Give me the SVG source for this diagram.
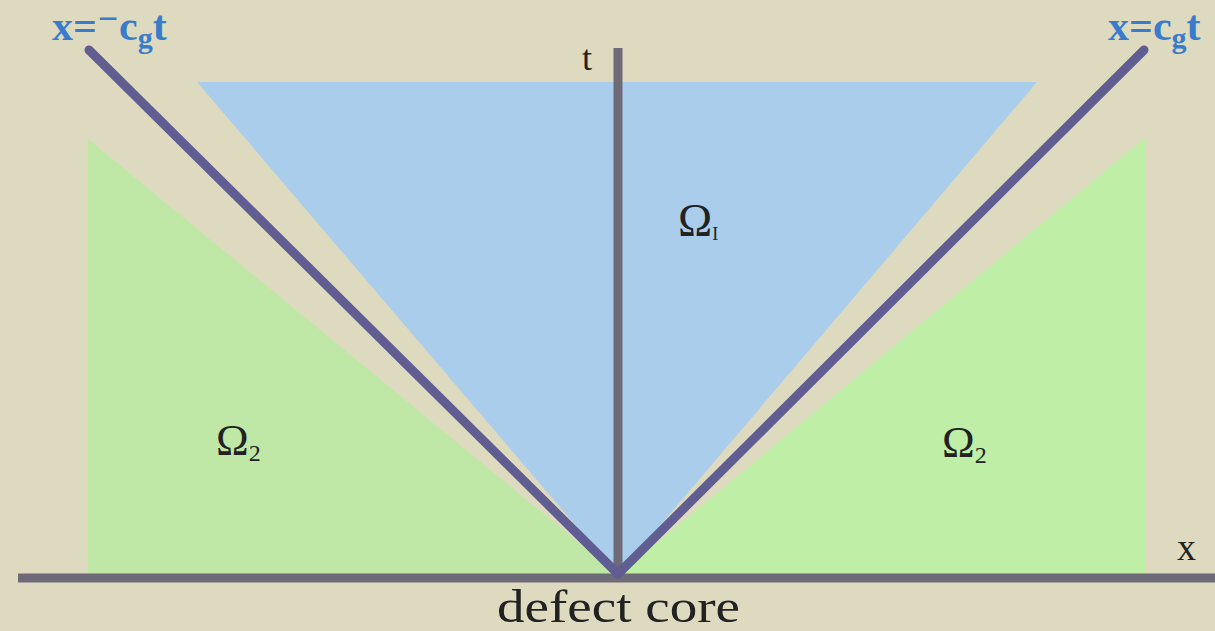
<svg xmlns="http://www.w3.org/2000/svg" width="1215" height="631" viewBox="0 0 1215 631">
<style>
.lbl{font-family:"Liberation Serif","DejaVu Serif",serif;fill:#222;}
.eq{font-family:"Liberation Serif","DejaVu Serif",serif;fill:#3a7ccc;font-weight:bold;font-size:42px;}
.axis{stroke:#6e6a78;stroke-width:9;fill:none;}
.cone{stroke:#5f5d92;stroke-width:9;stroke-linecap:round;fill:none;}
</style>
<rect width="1215" height="631" fill="#dedabf"/>
<g id="region-omega2-left"><polygon points="88,139 618,575 88,575" fill="#bfe8a6"/></g>
<g id="region-omega2-right"><polygon points="1145,138 618,575 1145,575" fill="#bfeea6"/></g>
<g id="region-omega1"><polygon points="197,82 1037,82 618,575" fill="#a9cdea"/></g>
<g id="connectors">
<line class="axis" x1="18" y1="578" x2="1215" y2="578"/>
<line class="axis" x1="618" y1="48" x2="618" y2="578"/>
<line class="cone" x1="89" y1="50" x2="618" y2="574"/>
<line class="cone" x1="1144" y1="50" x2="618" y2="574"/>
</g>
<g id="label-left-eq"><text class="eq" x="52" y="40">x=⁻c<tspan font-size="30" dy="8">g</tspan><tspan dy="-8">t</tspan></text></g>
<g id="label-right-eq"><text class="eq" x="1108" y="40">x=c<tspan font-size="30" dy="8">g</tspan><tspan dy="-8">t</tspan></text></g>
<g id="label-t"><text class="lbl" x="582" y="70" font-size="36">t</text></g>
<g id="label-x"><text class="lbl" x="1177" y="560" font-size="38">x</text></g>
<g id="label-defect"><text class="lbl" x="497" y="622" font-size="46" textLength="243" lengthAdjust="spacingAndGlyphs">defect core</text></g>
<g id="label-omega1"><text class="lbl" x="678" y="236" font-size="46">Ω<tspan font-size="18" dy="4">I</tspan></text></g>
<g id="label-omega2-left"><text class="lbl" x="216" y="455" font-size="44">Ω<tspan font-size="24" dy="6">2</tspan></text></g>
<g id="label-omega2-right"><text class="lbl" x="942" y="457" font-size="44">Ω<tspan font-size="24" dy="6">2</tspan></text></g>
</svg>
